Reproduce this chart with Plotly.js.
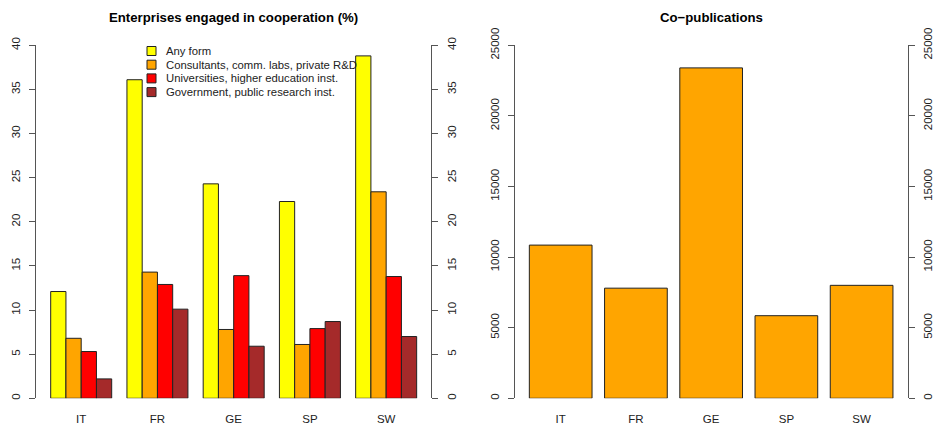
<!DOCTYPE html>
<html>
<head>
<meta charset="utf-8">
<script src="https://cdn.plot.ly/plotly-3.0.1.min.js"></script>
<style>html,body{margin:0;padding:0;background:#fff}#chart{width:933px;height:425px}</style>
</head>
<body>
<div id="chart"></div>
<script>
// ---- data ----
const countries = ['IT', 'FR', 'GE', 'SP', 'SW'];
const seriesNames = [
  'Any form',
  'Consultants, comm. labs, private R&D',
  'Universities, higher education inst.',
  'Government, public research inst.'
];
const anyForm      = [12.1, 36.1, 24.3, 22.3, 38.8];
const consultants  = [6.8, 14.3, 7.8, 6.1, 23.4];
const universities = [5.3, 12.9, 13.9, 7.9, 13.8];
const government   = [2.2, 10.1, 5.9, 8.7, 7.0];
const coPublications = [10850, 7800, 23400, 5850, 8000];
const leftTicks  = [0, 5, 10, 15, 20, 25, 30, 35, 40];
const rightTicks = [0, 5000, 10000, 15000, 20000, 25000];

// ---- styles ----
const seriesColors = ['#FFFF00', '#FFA500', '#FF0000', '#A52A2A'];
const W = 933, H = 425;
const FONT = 'Liberation Sans, Arial, sans-serif';
const px = v => v / W;
const py = v => 1 - v / H;

const leftSeries = [anyForm, consultants, universities, government];
const traces = leftSeries.map((vals, i) => ({
  type: 'bar', x: countries, y: vals, name: seriesNames[i],
  xaxis: 'x', yaxis: 'y', showlegend: false,
  marker: {color: seriesColors[i], line: {color: '#222', width: 1}}
}));
traces.push({
  type: 'bar', x: countries, y: coPublications, name: 'Co-publications',
  xaxis: 'x2', yaxis: 'y3', showlegend: false, width: 1 / 1.2,
  marker: {color: '#FFA500', line: {color: '#222', width: 1}}
});
// invisible carriers so the right-hand duplicate axes get drawn
traces.push({type: 'scatter', mode: 'none', x: countries, y: anyForm,
  xaxis: 'x', yaxis: 'y2', showlegend: false, hoverinfo: 'skip'});
traces.push({type: 'scatter', mode: 'none', x: countries, y: coPublications,
  xaxis: 'x2', yaxis: 'y4', showlegend: false, hoverinfo: 'skip'});

const yDomain = [(H - 398.3) / H, (H - 45.3) / H];
function yAx(extra) {
  return Object.assign({
    domain: yDomain, showline: true, linecolor: '#555', linewidth: 1,
    ticks: 'outside', ticklen: 6, tickcolor: '#555', tickwidth: 1,
    tickangle: -90, showgrid: false, zeroline: false, tickmode: 'array',
    tickformat: 'd',
    tickfont: {family: FONT, size: 11.5, color: '#222'}, ticklabelstandoff: 4,
    fixedrange: true
  }, extra);
}
function xAx(extra) {
  return Object.assign({
    showline: false, ticks: '', showgrid: false, zeroline: false,
    tickfont: {family: FONT, size: 11.5, color: '#222'}, ticklabelstandoff: 12,
    type: 'category', fixedrange: true
  }, extra);
}

const annotations = [
  {text: '<b>Enterprises engaged in cooperation (%)</b>', xref: 'paper', yref: 'paper',
   x: px(233.7), y: py(17), xanchor: 'center', yanchor: 'middle', showarrow: false,
   font: {family: FONT, size: 13.2, color: '#000'}},
  {text: '<b>Co\u2212publications</b>', xref: 'paper', yref: 'paper',
   x: px(711), y: py(17.5), xanchor: 'center', yanchor: 'middle', showarrow: false,
   font: {family: FONT, size: 13.2, color: '#000'}}
];
const shapes = [];
seriesNames.forEach((name, i) => {
  const cy = 51 + i * 13.7;
  shapes.push({type: 'rect', xref: 'paper', yref: 'paper',
    x0: px(147), x1: px(156), y0: py(cy + 4.5), y1: py(cy - 4.5),
    fillcolor: seriesColors[i], line: {color: '#222', width: 1}});
  annotations.push({text: name, xref: 'paper', yref: 'paper', x: px(164), y: py(cy),
    xanchor: 'left', yanchor: 'middle', showarrow: false,
    font: {family: FONT, size: 11.3, color: '#222'}});
});

const layout = {
  width: W, height: H, margin: {l: 0, r: 0, t: 0, b: 0},
  paper_bgcolor: '#fff', plot_bgcolor: 'rgba(0,0,0,0)',
  barmode: 'group', bargap: 0.2, bargroupgap: 0, showlegend: false,
  xaxis: xAx({domain: [px(36.06), px(431.3)], range: [-0.592, 4.592], anchor: 'y'}),
  yaxis: yAx({range: [0, 40], tickvals: leftTicks, anchor: 'x', side: 'left'}),
  yaxis2: yAx({range: [0, 40], tickvals: leftTicks, overlaying: 'y', anchor: 'x', side: 'right'}),
  xaxis2: xAx({domain: [px(514.8), px(907.5)], range: [-0.61, 4.61], anchor: 'y3'}),
  yaxis3: yAx({range: [0, 25000], tickvals: rightTicks, anchor: 'x2', side: 'left'}),
  yaxis4: yAx({range: [0, 25000], tickvals: rightTicks, overlaying: 'y3', anchor: 'x2', side: 'right'}),
  annotations: annotations, shapes: shapes
};

Plotly.newPlot('chart', traces, layout, {staticPlot: true, displayModeBar: false});
</script>
</body>
</html>
